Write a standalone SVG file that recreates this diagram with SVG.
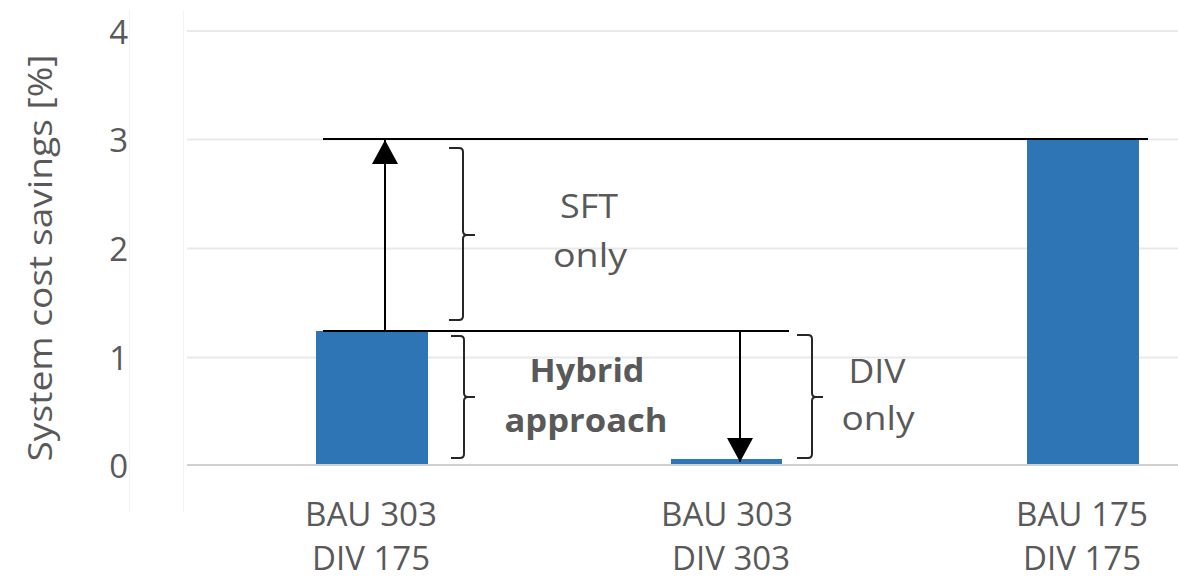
<svg xmlns="http://www.w3.org/2000/svg" width="1178" height="578" viewBox="0 0 1178 578">
<style>
.t{font-family:"Open Sans","Liberation Sans",sans-serif;fill:#595959;font-size:33px}
.b{font-weight:bold}
.x{font-size:32px}
.grid{stroke:#e9e9e9;stroke-width:2;fill:none}
.axis{stroke:#d0d0d0;stroke-width:2;fill:none}
.frame{stroke:#f3f3f3;stroke-width:1;fill:none}
.bar{fill:#2E75B6}
.ln{stroke:#000;stroke-width:2;fill:none}
.br{stroke:#262626;stroke-width:2;fill:none;stroke-linejoin:round}
</style>
<defs>
<marker id="ah" viewBox="0 0 24 26" refX="24" refY="13" markerWidth="24" markerHeight="26" markerUnits="userSpaceOnUse" orient="auto">
<path d="M0,0 L24,13 L0,26 z" fill="#000"/>
</marker>
</defs>
<rect width="1178" height="578" fill="#fff"/>
<g id="frame">
<line class="frame" x1="129.5" y1="10" x2="129.5" y2="512"/>
<line class="frame" x1="183.5" y1="10" x2="183.5" y2="512"/>
</g>
<g id="gridlines">
<line class="grid" x1="187" y1="31" x2="1178" y2="31"/>
<line class="grid" x1="187" y1="139.5" x2="1178" y2="139.5"/>
<line class="grid" x1="187" y1="248.5" x2="1178" y2="248.5"/>
<line class="grid" x1="187" y1="357.5" x2="1178" y2="357.5"/>
<line class="axis" x1="187" y1="465" x2="1178" y2="465"/>
</g>
<g id="y-axis">
<text class="t" transform="translate(52,258) rotate(-90)" text-anchor="middle" font-size="40" textLength="407" lengthAdjust="spacingAndGlyphs">System cost savings [%]</text>
<text class="t" x="128" y="44" text-anchor="end" font-size="34">4</text>
<text class="t" x="128" y="152" text-anchor="end" font-size="34">3</text>
<text class="t" x="128" y="261" text-anchor="end" font-size="34">2</text>
<text class="t" x="128" y="370" text-anchor="end" font-size="34">1</text>
<text class="t" x="128" y="478" text-anchor="end" font-size="34">0</text>
</g>
<g id="bar1">
<rect class="bar" x="316" y="331" width="112" height="133"/>
<text class="t x" x="371" y="526" text-anchor="middle" textLength="132" lengthAdjust="spacingAndGlyphs">BAU 303</text>
<text class="t x" x="371" y="570" text-anchor="middle" textLength="118" lengthAdjust="spacingAndGlyphs">DIV 175</text>
</g>
<g id="bar2">
<rect class="bar" x="671" y="459" width="111" height="5"/>
<text class="t x" x="727" y="526" text-anchor="middle" textLength="132" lengthAdjust="spacingAndGlyphs">BAU 303</text>
<text class="t x" x="731" y="570" text-anchor="middle" textLength="118" lengthAdjust="spacingAndGlyphs">DIV 303</text>
</g>
<g id="bar3">
<rect class="bar" x="1027" y="139" width="112" height="325"/>
<text class="t x" x="1082" y="526" text-anchor="middle" textLength="132" lengthAdjust="spacingAndGlyphs">BAU 175</text>
<text class="t x" x="1082" y="570" text-anchor="middle" textLength="118" lengthAdjust="spacingAndGlyphs">DIV 175</text>
</g>
<g id="sft-label">
<path class="br" d="M449,148 H459 Q463,148 463,152 V231 Q463,235 467,235 H475 M467,235 Q463,235 463,239 V316 Q463,320 459,320 H449"/>
<text class="t" x="589" y="218" text-anchor="middle" textLength="58" lengthAdjust="spacingAndGlyphs">SFT</text>
<text class="t" x="590" y="267" text-anchor="middle" textLength="74" lengthAdjust="spacingAndGlyphs">only</text>
</g>
<g id="hybrid-label">
<path class="br" d="M451,336 H460 Q464,336 464,340 V393 Q464,397 468,397 H475 M468,397 Q464,397 464,401 V454 Q464,458 460,458 H451"/>
<text class="t b" x="587" y="382" text-anchor="middle" textLength="115" lengthAdjust="spacingAndGlyphs">Hybrid</text>
<text class="t b" x="586" y="432" text-anchor="middle" textLength="163" lengthAdjust="spacingAndGlyphs">approach</text>
</g>
<g id="div-label">
<path class="br" d="M797,335 H808 Q812,335 812,339 V393 Q812,397 816,397 H823 M816,397 Q812,397 812,401 V454 Q812,458 808,458 H797"/>
<text class="t" x="877" y="383" text-anchor="middle" textLength="57" lengthAdjust="spacingAndGlyphs">DIV</text>
<text class="t" x="878" y="430" text-anchor="middle" textLength="73" lengthAdjust="spacingAndGlyphs">only</text>
</g>
<g id="connectors">
<line class="ln" x1="323" y1="139" x2="1148" y2="139"/>
<line class="ln" x1="323" y1="331" x2="789" y2="331"/>
<line class="ln" x1="385" y1="331" x2="385" y2="140" marker-end="url(#ah)"/>
<line class="ln" x1="740" y1="331" x2="740" y2="462" marker-end="url(#ah)"/>
</g>
</svg>
